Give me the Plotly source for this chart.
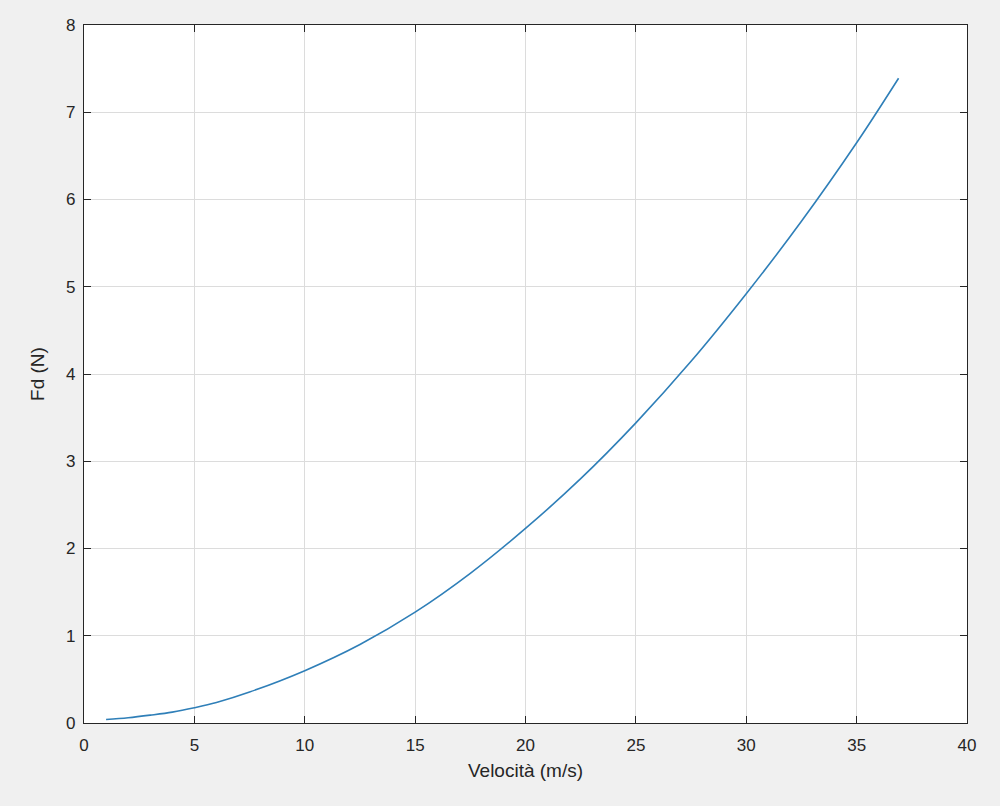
import plotly.graph_objects as go

velocita = [1, 2, 3, 4, 5, 6, 7.5, 10, 12.5, 15, 17.5, 20, 22.5, 25, 27.5, 30, 32.5, 35, 36.9]
fd = [0.04, 0.06, 0.09, 0.125, 0.175, 0.235, 0.355, 0.60, 0.90, 1.27, 1.715, 2.23, 2.80, 3.44, 4.145, 4.92, 5.75, 6.65, 7.39]

x_ticks = [0, 5, 10, 15, 20, 25, 30, 35, 40]
y_ticks = [0, 1, 2, 3, 4, 5, 6, 7, 8]

FONT = "Liberation Sans, Arial, Helvetica, sans-serif"
TXT = "#262626"

fig = go.Figure()
fig.add_trace(go.Scatter(x=velocita, y=fd, mode="lines",
                         line=dict(color="#2f7fb8", width=1.6, shape="spline", smoothing=1.0),
                         showlegend=False))

axis_common = dict(
    showline=True, linecolor=TXT, linewidth=1.2, mirror="ticks",
    ticks="inside", ticklen=7, tickcolor=TXT, tickwidth=1,
    showgrid=True, gridcolor="#dcdcdc", gridwidth=1, zeroline=False,
    tickfont=dict(family=FONT, size=17, color=TXT),
)

fig.update_layout(
    width=1000, height=806,
    paper_bgcolor="#f0f0f0", plot_bgcolor="white",
    margin=dict(l=84, r=33, t=25, b=83),
    xaxis=dict(range=[0, 40], tickvals=x_ticks, ticklabelstandoff=6,
               title=dict(text="Velocità (m/s)", standoff=10,
                          font=dict(family=FONT, size=19, color=TXT)),
               **axis_common),
    yaxis=dict(range=[0, 8], tickvals=y_ticks, ticklabelstandoff=4,
               title=dict(text="Fd (N)", standoff=16,
                          font=dict(family=FONT, size=19, color=TXT)),
               **axis_common),
)

fig.write_html(
    "out.html",
    config={"displayModeBar": False},
    post_script="document.body.style.margin='0';document.body.style.background='#f0f0f0';",
)
